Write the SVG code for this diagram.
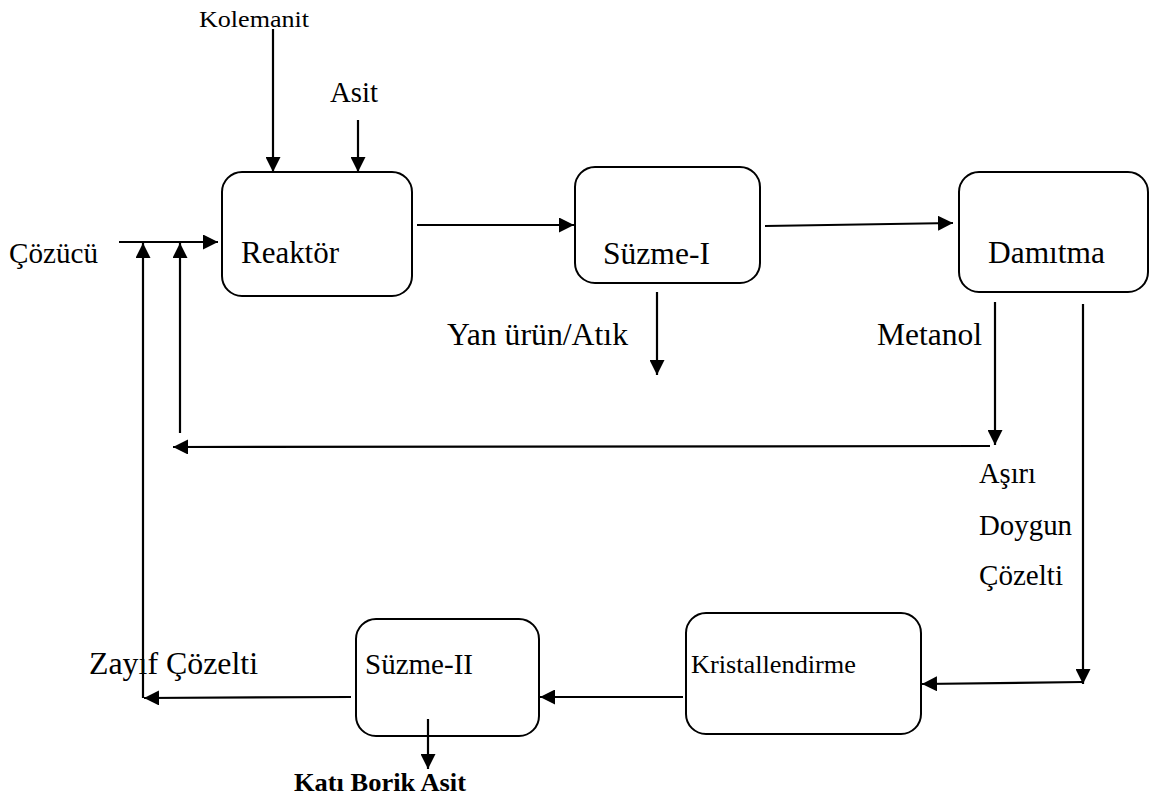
<svg xmlns="http://www.w3.org/2000/svg" width="1150" height="798" viewBox="0 0 1150 798">
<style>
.box{fill:#fff;stroke:#000;stroke-width:2}
.t{font-family:'Liberation Serif','Times New Roman',Times,serif;fill:#000}
.c{fill:none;stroke:#000;stroke-width:2.2;marker-end:url(#ah)}
</style>
<defs>
<marker id="ah" markerUnits="userSpaceOnUse" markerWidth="15" markerHeight="15" refX="15" refY="7.5" orient="auto">
<path d="M0,0 L15,7.5 L0,15 z" fill="#000"/>
</marker>
</defs>
<rect width="1150" height="798" fill="#fff"/>
<g id="reaktor">
<rect class="box" x="222" y="172" width="190" height="124" rx="20"/>
<text class="t" x="241" y="263" font-size="31" textLength="98" lengthAdjust="spacingAndGlyphs">Reaktör</text>
</g>
<g id="suzme1">
<rect class="box" x="575" y="167" width="185" height="116" rx="20"/>
<text class="t" x="603" y="264" font-size="31" textLength="107" lengthAdjust="spacingAndGlyphs">Süzme-I</text>
</g>
<g id="damitma">
<rect class="box" x="959" y="172" width="189" height="120" rx="20"/>
<text class="t" x="988" y="263" font-size="31" textLength="117" lengthAdjust="spacingAndGlyphs">Damıtma</text>
</g>
<g id="kristallendirme">
<rect class="box" x="686" y="613" width="235" height="121" rx="20"/>
<text class="t" x="691" y="673" font-size="26" textLength="165" lengthAdjust="spacingAndGlyphs">Kristallendirme</text>
</g>
<g id="suzme2">
<rect class="box" x="356" y="619" width="183" height="117" rx="20"/>
<text class="t" x="365" y="674" font-size="29" textLength="108" lengthAdjust="spacingAndGlyphs">Süzme-II</text>
</g>
<g id="labels">
<text class="t" x="199" y="27" font-size="24" textLength="110" lengthAdjust="spacingAndGlyphs">Kolemanit</text>
<text class="t" x="330" y="102" font-size="29" textLength="48" lengthAdjust="spacingAndGlyphs">Asit</text>
<text class="t" x="9" y="263" font-size="29" textLength="89" lengthAdjust="spacingAndGlyphs">Çözücü</text>
<text class="t" x="447" y="345" font-size="31" textLength="181" lengthAdjust="spacingAndGlyphs">Yan ürün/Atık</text>
<text class="t" x="877" y="345" font-size="31" textLength="105" lengthAdjust="spacingAndGlyphs">Metanol</text>
<text class="t" x="979" y="483" font-size="29" textLength="57" lengthAdjust="spacingAndGlyphs">Aşırı</text>
<text class="t" x="979" y="535" font-size="29" textLength="93" lengthAdjust="spacingAndGlyphs">Doygun</text>
<text class="t" x="979" y="585" font-size="29" textLength="84" lengthAdjust="spacingAndGlyphs">Çözelti</text>
<text class="t" x="89" y="674" font-size="31" textLength="169" lengthAdjust="spacingAndGlyphs">Zayıf Çözelti</text>
<text class="t" x="294" y="791" font-size="26" font-weight="bold" textLength="172" lengthAdjust="spacingAndGlyphs">Katı Borik Asit</text>
</g>
<g id="connectors">
<line class="c" x1="273" y1="29" x2="273" y2="172"/>
<line class="c" x1="358" y1="120" x2="358" y2="172"/>
<line class="c" x1="119" y1="242" x2="218" y2="242"/>
<line class="c" x1="143" y1="698" x2="143" y2="243"/>
<line class="c" x1="180" y1="433" x2="180" y2="243"/>
<line class="c" x1="417" y1="225" x2="574" y2="225"/>
<line class="c" x1="765" y1="226" x2="953" y2="223"/>
<line class="c" x1="657" y1="292" x2="657" y2="375"/>
<line class="c" x1="995" y1="302" x2="995" y2="445"/>
<line class="c" x1="990" y1="446" x2="173" y2="447"/>
<line class="c" x1="1083" y1="304" x2="1083" y2="684"/>
<line class="c" x1="1083" y1="682" x2="922" y2="684"/>
<line class="c" x1="683" y1="697" x2="540" y2="697"/>
<line class="c" x1="351" y1="697" x2="144" y2="698"/>
<line class="c" x1="428" y1="719" x2="428" y2="769"/>
</g>
</svg>
